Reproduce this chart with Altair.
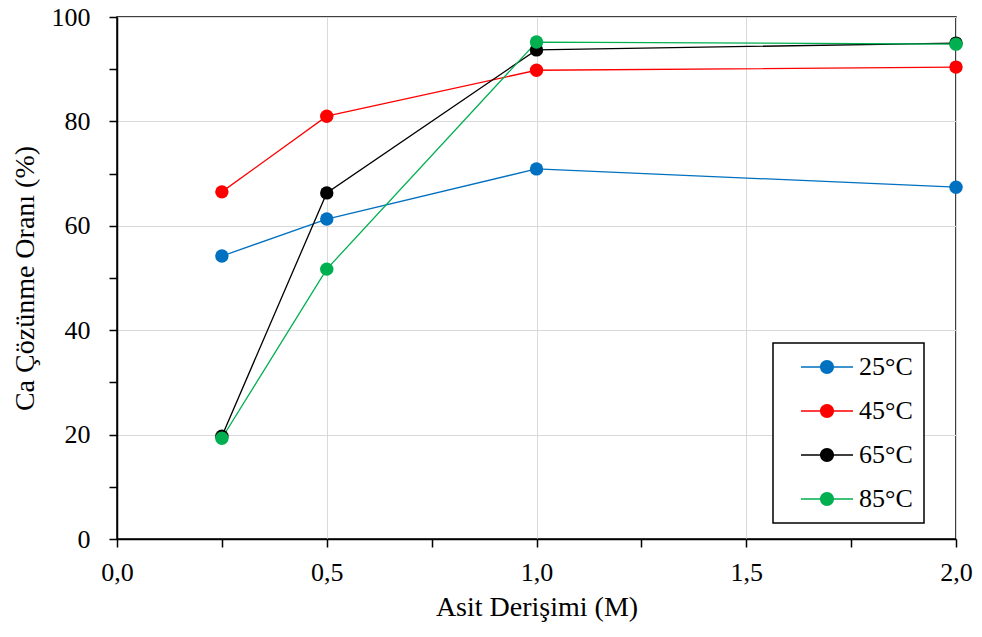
import altair as alt
import pandas as pd

concentration = [0.25, 0.5, 1.0, 2.0]
series_names = ["25°C", "45°C", "65°C", "85°C"]
series_colors = ["#0070C0", "#FF0000", "#000000", "#00B050"]
values_25 = [54.2, 61.3, 70.9, 67.4]
values_45 = [66.5, 81.0, 89.8, 90.4]
values_65 = [19.7, 66.3, 93.7, 95.0]
values_85 = [19.3, 51.7, 95.2, 94.8]

rows = []
for name, vals in zip(series_names, [values_25, values_45, values_65, values_85]):
    for c, v in zip(concentration, vals):
        rows.append({"Derisim": c, "Oran": v, "Seri": name})
df = pd.DataFrame(rows)

FONT = "Liberation Serif"
LEGEND_PATH = ("M-2.6,-0.07L2.6,-0.07L2.6,0.07L-2.6,0.07Z"
               "M-0.7,0A0.7,0.7,0,1,1,0.7,0A0.7,0.7,0,1,1,-0.7,0Z")

x_axis = alt.Axis(
    title="Asit Derişimi (M)",
    values=[0, 0.25, 0.5, 0.75, 1.0, 1.25, 1.5, 1.75, 2.0],
    labelExpr="datum.value % 0.5 == 0 ? replace(format(datum.value, '.1f'), '.', ',') : ''",
    gridOpacity={"condition": {"test": "datum.value % 0.5 == 0", "value": 1}, "value": 0},
    labelFont=FONT,
    labelFontSize=26,
    labelColor="black",
    labelPadding=12,
    labelOverlap=False,
    labelBound=False,
    labelFlush=False,
    titleFont=FONT,
    titleFontSize=28,
    titleFontWeight="normal",
    titleColor="black",
    titlePadding=8,
)
y_axis = alt.Axis(
    title="Ca Çözünme Oranı (%)",
    values=list(range(0, 101, 10)),
    labelExpr="datum.value % 20 == 0 ? format(datum.value, 'd') : ''",
    gridOpacity={"condition": {"test": "datum.value % 20 == 0", "value": 1}, "value": 0},
    labelFont=FONT,
    labelFontSize=26,
    labelColor="black",
    labelPadding=19,
    labelOverlap=False,
    labelBound=False,
    labelFlush=False,
    titleFont=FONT,
    titleFontSize=28,
    titleFontWeight="normal",
    titleColor="black",
    titlePadding=12,
)

x_enc = alt.X("Derisim:Q", scale=alt.Scale(domain=[0, 2], nice=False), axis=x_axis)
y_enc = alt.Y("Oran:Q", scale=alt.Scale(domain=[0, 100], nice=False), axis=y_axis)

lines = alt.Chart(df).mark_line(strokeWidth=1.3).encode(
    x=x_enc,
    y=y_enc,
    stroke=alt.Stroke("Seri:N", scale=alt.Scale(domain=series_names, range=series_colors), legend=None),
    detail="Seri:N",
)

points = alt.Chart(df).mark_circle(size=180, opacity=1).encode(
    x=x_enc,
    y=y_enc,
    fill=alt.Fill(
        "Seri:N",
        scale=alt.Scale(domain=series_names, range=series_colors),
        legend=alt.Legend(
            title=None,
            orient="none",
            legendX=656,
            legendY=326,
            symbolType=LEGEND_PATH,
            symbolSize=400,
            symbolStrokeWidth=0,
            symbolOpacity=1,
            symbolOffset=30,
            labelFont=FONT,
            labelFontSize=26,
            labelColor="black",
            labelOffset=19,
            padding=11,
            rowPadding=18,
            strokeColor="black",
            fillColor="white",
        ),
    ),
)

chart = (
    alt.layer(lines, points)
    .resolve_scale(fill="independent", stroke="independent")
    .properties(
        width=839,
        height=522,
        autosize=alt.AutoSizeParams(type="none"),
        padding={"left": 109, "top": 9, "right": 18, "bottom": 90},
    )
    .configure_view(stroke="black", strokeWidth=1.5)
    .configure_axis(
        domainColor="black",
        domainWidth=1.5,
        tickColor="black",
        tickWidth=1.5,
        tickSize=8,
        gridColor="#D9D9D9",
        gridWidth=1,
    )
    .configure_legend(strokeWidth=1.5)
)

chart.save("out.html", embed_options={"renderer": "svg", "actions": False})
